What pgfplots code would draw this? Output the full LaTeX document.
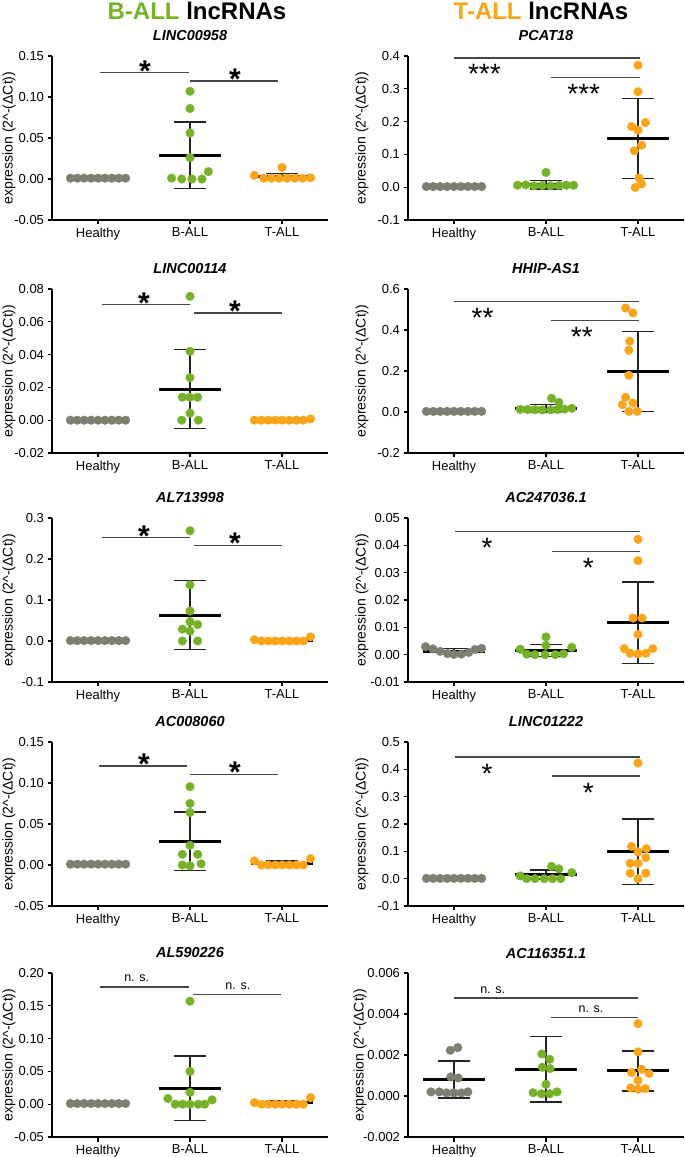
\documentclass[border=0pt]{standalone}
\usepackage{fontspec}
\setmainfont{Liberation Sans}
\usepackage{pgfplots}
\pgfplotsset{compat=1.18}

\definecolor{hgray}{RGB}{125,128,112}
\definecolor{bgreen}{RGB}{118,178,40}
\definecolor{torange}{RGB}{250,165,25}
\definecolor{sigcol}{RGB}{70,70,70}
\definecolor{sdcol}{RGB}{35,35,35}

\pgfplotsset{
  panel/.style={
    scale only axis, width=276pt, height=164pt,
    xmin=-0.5, xmax=2.5, xtick={0,1,2}, xticklabels={Healthy,B-ALL,T-ALL},
    axis x line*=bottom, axis y line*=left,
    axis line style={line width=1.8pt, black, -},
    every tick/.style={line width=1.3pt, black},
    tick align=outside, major tick length=4.5pt, tick pos=left,
    scaled y ticks=false,
    ticklabel style={font=\fontsize{13}{15}\selectfont},
    ylabel={expression (2\textasciicircum-(ΔCt))},
    ylabel style={font=\fontsize{14}{16}\selectfont, anchor=center},
    title style={at={(0.5,1)}, anchor=center, yshift=14pt,
                 font=\fontsize{14.5}{16}\selectfont\bfseries\itshape},
    clip=false,
  },
  leftpanel/.style={panel, ylabel style={at={(axis description cs:-0.156,0.5)}}},
  rightpanel/.style={panel, ylabel style={at={(axis description cs:-0.167,0.5)}}},
  hdot/.style={only marks, mark=*, mark size=4.3pt, color=hgray},
  bdot/.style={only marks, mark=*, mark size=4.3pt, color=bgreen},
  tdot/.style={only marks, mark=*, mark size=4.3pt, color=torange},
  sdline/.style={sdcol, line width=1.4pt, mark=none},
  meanline/.style={black, line width=3pt, mark=none},
}
\tikzset{
  sigbar/.style={sigcol, line width=1.5pt},
  starL/.style={font=\fontsize{30}{30}\selectfont\bfseries, anchor=base, inner sep=0pt, yshift=-8.5pt},
  starR/.style={font=\fontsize{28}{28}\selectfont, anchor=base, inner sep=0pt, yshift=-26pt},
  nstext/.style={font=\fontsize{12.5}{14}\selectfont, anchor=base, inner sep=0pt, yshift=5pt},
}

% mean line and SD whiskers: x, mean, sd
\newcommand{\msd}[3]{%
  \pgfmathsetmacro\mL{#1-0.34}\pgfmathsetmacro\mR{#1+0.34}%
  \pgfmathsetmacro\wL{#1-0.17}\pgfmathsetmacro\wR{#1+0.17}%
  \pgfmathsetmacro\sLo{#2-#3}\pgfmathsetmacro\sHi{#2+#3}%
  \edef\tmpplot{%
    \noexpand\addplot[sdline] coordinates {(#1,\sLo)(#1,\sHi)};%
    \noexpand\addplot[sdline] coordinates {(\wL,\sHi)(\wR,\sHi)};%
    \noexpand\addplot[sdline] coordinates {(\wL,\sLo)(\wR,\sLo)};%
    \noexpand\addplot[meanline] coordinates {(\mL,#2)(\mR,#2)};}%
  \tmpplot}
% significance bars: x1, x2, y, label x, label
\newcommand{\sigL}[5]{\draw[sigbar] (axis cs:#1,#3) -- (axis cs:#2,#3); \node[starL] at (axis cs:#4,#3) {#5};}
\newcommand{\sigR}[5]{\draw[sigbar] (axis cs:#1,#3) -- (axis cs:#2,#3); \node[starR] at (axis cs:#4,#3) {#5};}
\newcommand{\sigN}[4]{\draw[sigbar] (axis cs:#1,#3) -- (axis cs:#2,#3); \node[nstext] at (axis cs:#4,#3) {n. s.};}

\begin{document}
\begin{tikzpicture}
\path[use as bounding box] (0,0) rectangle (685pt,1157pt);

\node[font=\fontsize{24}{28}\selectfont\bfseries] at (197pt,1146pt) {\textcolor{bgreen}{B-ALL} lncRNAs};
\node[font=\fontsize{24}{28}\selectfont\bfseries] at (541pt,1146pt) {\textcolor{torange}{T-ALL} lncRNAs};

% ---------- row 1
\begin{axis}[leftpanel, at={(52pt,937pt)}, title={LINC00958},
  ymin=-0.05, ymax=0.15, ytick={-0.05,0,0.05,0.1,0.15}, yticklabels={-0.05,0.00,0.05,0.10,0.15}]
\msd{0}{0.001}{0.0005}
\msd{1}{0.029}{0.0405}
\msd{2}{0.003}{0.0037}
\addplot[hdot] coordinates {(-0.30,0.001)(-0.225,0.001)(-0.15,0.001)(-0.075,0.001)(0,0.001)(0.075,0.001)(0.15,0.001)(0.225,0.001)(0.30,0.001)};
\addplot[bdot] coordinates {(1,0.107)(1,0.086)(1,0.056)(1,0.026)(1.2,0.009)(0.8,0.001)(0.91,0)(1.02,0)(1.13,0)};
\addplot[tdot] coordinates {(1.70,0.0045)(2.0,0.014)(1.80,0.001)(1.885,0.001)(1.97,0.001)(2.055,0.001)(2.14,0.001)(2.225,0.001)(2.31,0.0015)};
\sigL{0.02}{0.99}{0.1296}{0.51}{*}
\sigL{1.0}{1.96}{0.1194}{1.49}{*}
\end{axis}

\begin{axis}[rightpanel, at={(408pt,937pt)}, title={PCAT18},
  ymin=-0.1, ymax=0.4, ytick={-0.1,0,0.1,0.2,0.3,0.4}, yticklabels={-0.1,0.0,0.1,0.2,0.3,0.4}]
\msd{0}{0.002}{0.0015}
\msd{1}{0.008}{0.013}
\msd{2}{0.149}{0.122}
\addplot[hdot] coordinates {(-0.30,0.002)(-0.225,0.002)(-0.15,0.002)(-0.075,0.002)(0,0.002)(0.075,0.002)(0.15,0.002)(0.225,0.002)(0.30,0.002)};
\addplot[bdot] coordinates {(1,0.045)(0.69,0.006)(0.78,0.007)(0.87,0.004)(0.96,0.005)(1.05,0.004)(1.14,0.005)(1.22,0.006)(1.30,0.006)};
\addplot[tdot] coordinates {(2,0.372)(2,0.291)(1.93,0.185)(2.08,0.197)(2,0.174)(2.04,0.128)(1.96,0.111)(2.01,0.028)(1.97,-0.001)(2.04,0.010)};
\sigR{0}{2.02}{0.394}{0.33}{***}
\sigR{1.05}{2.02}{0.335}{1.41}{***}
\end{axis}

% ---------- row 2
\begin{axis}[leftpanel, at={(52pt,704pt)}, title={LINC00114},
  ymin=-0.02, ymax=0.08, ytick={-0.02,0,0.02,0.04,0.06,0.08}, yticklabels={-0.02,0.00,0.02,0.04,0.06,0.08}]
\msd{0}{0}{0.0002}
\msd{1}{0.019}{0.024}
\msd{2}{0.0001}{0.0003}
\addplot[hdot] coordinates {(-0.30,0)(-0.225,0)(-0.15,0)(-0.075,0)(0,0)(0.075,0)(0.15,0)(0.225,0)(0.30,0)};
\addplot[bdot] coordinates {(1,0.0755)(1,0.042)(1,0.026)(0.917,0.014)(1,0.014)(1.083,0.014)(1,0.0043)(0.91,0)(1.09,0)};
\addplot[tdot] coordinates {(1.70,0)(1.776,0)(1.852,0)(1.928,0)(2.004,0)(2.08,0)(2.156,0)(2.232,0)(2.31,0.0008)};
\sigL{0.04}{1.0}{0.0704}{0.5}{*}
\sigL{1.04}{2.0}{0.0655}{1.49}{*}
\end{axis}

\begin{axis}[rightpanel, at={(408pt,704pt)}, title={HHIP-AS1},
  ymin=-0.2, ymax=0.6, ytick={-0.2,0,0.2,0.4,0.6}, yticklabels={-0.2,0.0,0.2,0.4,0.6}]
\msd{0}{0.003}{0.002}
\msd{1}{0.018}{0.02}
\msd{2}{0.197}{0.196}
\addplot[hdot] coordinates {(-0.30,0.003)(-0.225,0.003)(-0.15,0.003)(-0.075,0.003)(0,0.003)(0.075,0.003)(0.15,0.003)(0.225,0.003)(0.30,0.003)};
\addplot[bdot] coordinates {(1.06,0.067)(1.14,0.047)(0.72,0.013)(0.80,0.012)(0.88,0.011)(0.96,0.01)(1.05,0.011)(1.13,0.012)(1.20,0.014)(1.28,0.018)};
\addplot[tdot] coordinates {(1.865,0.507)(1.945,0.483)(1.91,0.345)(1.90,0.301)(1.90,0.179)(1.865,0.072)(1.83,0.036)(1.945,0.044)(1.90,0.003)(1.99,0.003)};
\sigR{0}{2.01}{0.54}{0.31}{**}
\sigR{1.05}{2.01}{0.447}{1.39}{**}
\end{axis}

% ---------- row 3
\begin{axis}[leftpanel, at={(52pt,475pt)}, title={AL713998},
  ymin=-0.1, ymax=0.3, ytick={-0.1,0,0.1,0.2,0.3}, yticklabels={-0.1,0.0,0.1,0.2,0.3}]
\msd{0}{0.001}{0.0008}
\msd{1}{0.063}{0.084}
\msd{2}{0.002}{0.003}
\addplot[hdot] coordinates {(-0.30,0.001)(-0.225,0.001)(-0.15,0.001)(-0.075,0.001)(0,0.001)(0.075,0.001)(0.15,0.001)(0.225,0.001)(0.30,0.001)};
\addplot[bdot] coordinates {(1,0.269)(1,0.137)(1,0.073)(1,0.047)(0.917,0.029)(1.083,0.04)(1,0.024)(0.917,0)(1.083,0)};
\addplot[tdot] coordinates {(1.70,0.003)(1.776,0)(1.852,0)(1.928,0)(2.004,0)(2.08,0)(2.156,0)(2.232,0)(2.31,0.01)};
\sigL{0.04}{1.0}{0.252}{0.5}{*}
\sigL{1.04}{2.0}{0.233}{1.49}{*}
\end{axis}

\begin{axis}[rightpanel, at={(408pt,475pt)}, title={AC247036.1},
  ymin=-0.01, ymax=0.05, ytick={-0.01,0,0.01,0.02,0.03,0.04,0.05}, yticklabels={-0.01,0.00,0.01,0.02,0.03,0.04,0.05}]
\msd{0}{0.0013}{0.0009}
\msd{1}{0.0015}{0.0022}
\msd{2}{0.0117}{0.0149}
\addplot[hdot] coordinates {(-0.31,0.0029)(-0.23,0.0021)(-0.15,0.0012)(-0.07,0.0004)(0,0.0001)(0.08,0.0002)(0.16,0.0008)(0.23,0.0019)(0.30,0.0023)};
\addplot[bdot] coordinates {(1,0.0065)(1,0.0034)(0.72,0.002)(1.28,0.0027)(0.79,0.0002)(0.88,0)(0.99,0)(1.10,0)(1.19,0.0003)};
\addplot[tdot] coordinates {(2,0.0422)(2,0.0344)(1.945,0.0134)(2.044,0.0134)(2,0.0074)(1.85,0.0022)(2.16,0.0022)(1.915,0.0005)(2,0.0003)(2.085,0.0005)};
\sigR{0.01}{2.02}{0.0451}{0.36}{*}
\sigR{1.06}{2.02}{0.0378}{1.46}{*}
\end{axis}

% ---------- row 4
\begin{axis}[leftpanel, at={(52pt,251pt)}, title={AC008060},
  ymin=-0.05, ymax=0.15, ytick={-0.05,0,0.05,0.1,0.15}, yticklabels={-0.05,0.00,0.05,0.10,0.15}]
\msd{0}{0.001}{0.0005}
\msd{1}{0.029}{0.0355}
\msd{2}{0.0018}{0.003}
\addplot[hdot] coordinates {(-0.30,0.001)(-0.225,0.001)(-0.15,0.001)(-0.075,0.001)(0,0.001)(0.075,0.001)(0.15,0.001)(0.225,0.001)(0.30,0.001)};
\addplot[bdot] coordinates {(1,0.0955)(1,0.075)(1,0.064)(1,0.024)(0.917,0.013)(1.083,0.013)(0.917,0)(1.0,-0.001)(1.12,0.0015)};
\addplot[tdot] coordinates {(1.70,0.005)(1.776,0)(1.852,0)(1.928,0)(2.004,0)(2.08,0)(2.156,0)(2.232,0)(2.31,0.0077)};
\sigL{0.01}{0.97}{0.121}{0.5}{*}
\sigL{1.0}{1.96}{0.1106}{1.49}{*}
\end{axis}

\begin{axis}[rightpanel, at={(408pt,251pt)}, title={LINC01222},
  ymin=-0.1, ymax=0.5, ytick={-0.1,0,0.1,0.2,0.3,0.4,0.5}, yticklabels={-0.1,0.0,0.1,0.2,0.3,0.4,0.5}]
\msd{0}{0.001}{0.001}
\msd{1}{0.015}{0.016}
\msd{2}{0.099}{0.12}
\addplot[hdot] coordinates {(-0.30,0.001)(-0.225,0.001)(-0.15,0.001)(-0.075,0.001)(0,0.001)(0.075,0.001)(0.15,0.001)(0.225,0.001)(0.30,0.001)};
\addplot[bdot] coordinates {(1.06,0.045)(1.14,0.036)(1.28,0.022)(0.72,0.01)(0.79,0)(0.88,0)(0.98,0)(1.07,0)(1.16,0)};
\addplot[tdot] coordinates {(2,0.423)(1.93,0.118)(2.09,0.11)(2,0.098)(1.915,0.056)(2,0.056)(2.085,0.077)(1.915,0.02)(2.085,0.02)(2,0)};
\sigR{0.01}{2.02}{0.445}{0.36}{*}
\sigR{1.06}{2.02}{0.375}{1.46}{*}
\end{axis}

% ---------- row 5
\begin{axis}[leftpanel, at={(52pt,20pt)}, title={AL590226},
  ymin=-0.05, ymax=0.2, ytick={-0.05,0,0.05,0.1,0.15,0.2}, yticklabels={-0.05,0.00,0.05,0.10,0.15,0.20}]
\msd{0}{0.001}{0.0005}
\msd{1}{0.0245}{0.049}
\msd{2}{0.002}{0.003}
\addplot[hdot] coordinates {(-0.30,0.001)(-0.225,0.001)(-0.15,0.001)(-0.075,0.001)(0,0.001)(0.075,0.001)(0.15,0.001)(0.225,0.001)(0.30,0.001)};
\addplot[bdot] coordinates {(1,0.157)(1,0.05)(1,0.018)(0.76,0.0087)(1.24,0.0066)(0.84,0)(0.92,0)(1.0,0)(1.09,0)(1.16,0)};
\addplot[tdot] coordinates {(1.70,0.0025)(1.776,0)(1.852,0)(1.928,0)(2.004,0)(2.08,0)(2.156,0)(2.232,0)(2.31,0.01)};
\sigN{0.02}{0.99}{0.179}{0.42}
\sigN{1.03}{1.99}{0.167}{1.52}
\end{axis}

\begin{axis}[panel, ylabel style={at={(axis description cs:-0.174,0.5)}}, at={(408pt,20pt)}, title={AC116351.1},
  ymin=-0.002, ymax=0.006, ytick={-0.002,0,0.002,0.004,0.006}, yticklabels={-0.002,0.000,0.002,0.004,0.006}]
\msd{0}{0.0008}{0.0009}
\msd{1}{0.0013}{0.0016}
\msd{2}{0.00122}{0.00098}
\addplot[hdot] coordinates {(-0.04,0.00223)(0.04,0.00236)(-0.035,0.00093)(0.045,0.00088)(-0.25,0.0002)(-0.16,0.0002)(-0.08,0.00015)(0,0.00015)(0.08,0.00015)(0.15,0.0002)};
\addplot[bdot] coordinates {(0.955,0.00205)(1.04,0.00179)(0.96,0.0014)(1.045,0.00134)(1,0.00057)(0.86,0.00016)(0.95,0.00011)(1.04,0.00011)(1.12,0.0002)};
\addplot[tdot] coordinates {(2,0.00353)(2,0.00215)(1.93,0.00115)(2.04,0.0013)(2.12,0.0011)(2,0.00076)(1.92,0.0004)(2,0.00033)(2.08,0.00036)};
\sigN{0}{2.0}{0.00478}{0.42}
\sigN{1.05}{2.0}{0.00384}{1.49}
\end{axis}
\end{tikzpicture}
\end{document}
